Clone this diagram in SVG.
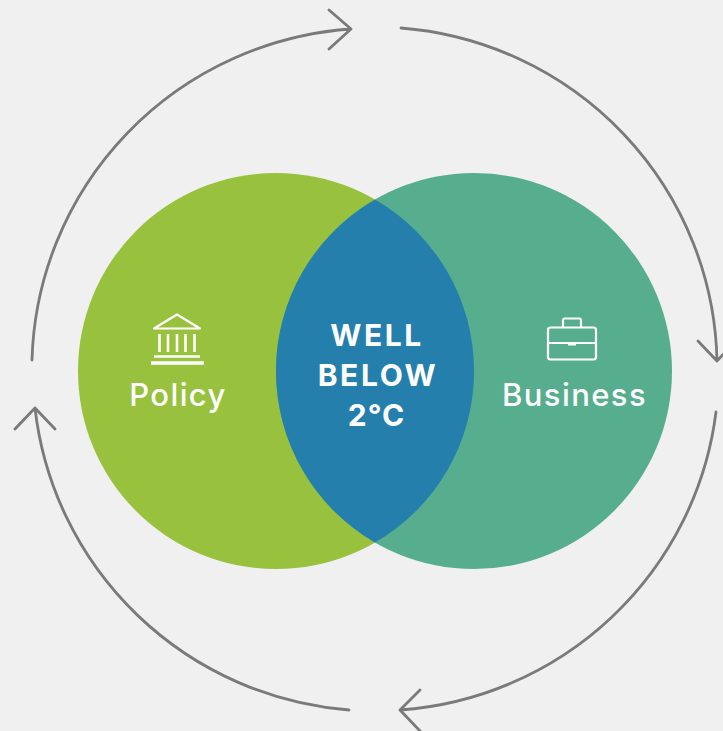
<svg xmlns="http://www.w3.org/2000/svg" width="723" height="731" viewBox="0 0 723 731">
<style>
.conn{fill:none;stroke:#7a7a7a;stroke-width:2.8;stroke-linecap:round;stroke-linejoin:round}
.ico{fill:none;stroke:#fff;stroke-width:2.2}
.lbl{font-family:"Inter","Open Sans",sans-serif;font-size:31px;font-weight:500;fill:#fff;text-anchor:middle}
.hd{font-family:"Inter","Open Sans",sans-serif;font-size:30px;font-weight:700;fill:#fff;text-anchor:middle}
</style>
<rect width="723" height="731" fill="#f0f0f0"/>
<g id="policy">
<circle cx="276" cy="371" r="198" fill="#98c23d"/>
<g class="ico">
<path d="M177 314.500L154 328.500H200Z" stroke-linejoin="round"/>
<path d="M159.500 334V352M168 334V352M177 334V352M185.500 334V352M194.500 334V352" stroke-width="2.600"/>
<path d="M154 356.500H200" stroke-width="2.600"/>
<path d="M151 363H204" stroke-width="3.400"/>
</g>
<text class="lbl" x="178" y="406" letter-spacing="1.400">Policy</text>
</g>
<g id="business">
<circle cx="474" cy="371" r="198" fill="#56ae8e"/>
<g class="ico">
<rect x="548" y="327.500" width="48" height="32" rx="2.500"/>
<path d="M548 343H596M568 344.500H576"/>
<path d="M563 327V320.500Q563 318.500 565 318.500H579Q581 318.500 581 320.500V327"/>
</g>
<text class="lbl" x="574.500" y="406" letter-spacing="1.400">Business</text>
</g>
<g id="overlap">
<path d="M375 199.500A198 198 0 0 1 375 542.500A198 198 0 0 1 375 199.500Z" fill="#247fac"/>
<text class="hd" x="377" y="346" letter-spacing="2.500">WELL</text>
<text class="hd" x="378" y="386" letter-spacing="2.600">BELOW</text>
<text class="hd" x="376.500" y="426" letter-spacing="1">2°C</text>
</g>
<g id="connectors" class="conn">
<path d="M32 360A343 341 0 0 1 351 29M329 10L351 29L329 49"/>
<path d="M401 28A343 341 0 0 1 717 361M698 341L717 361L730 347"/>
<path d="M716 412A343 341 0 0 1 400 710M420 690L400 710L420 731"/>
<path d="M349 710A343 341 0 0 1 35 408M15 429L35 408L55 429"/>
</g>
</svg>
